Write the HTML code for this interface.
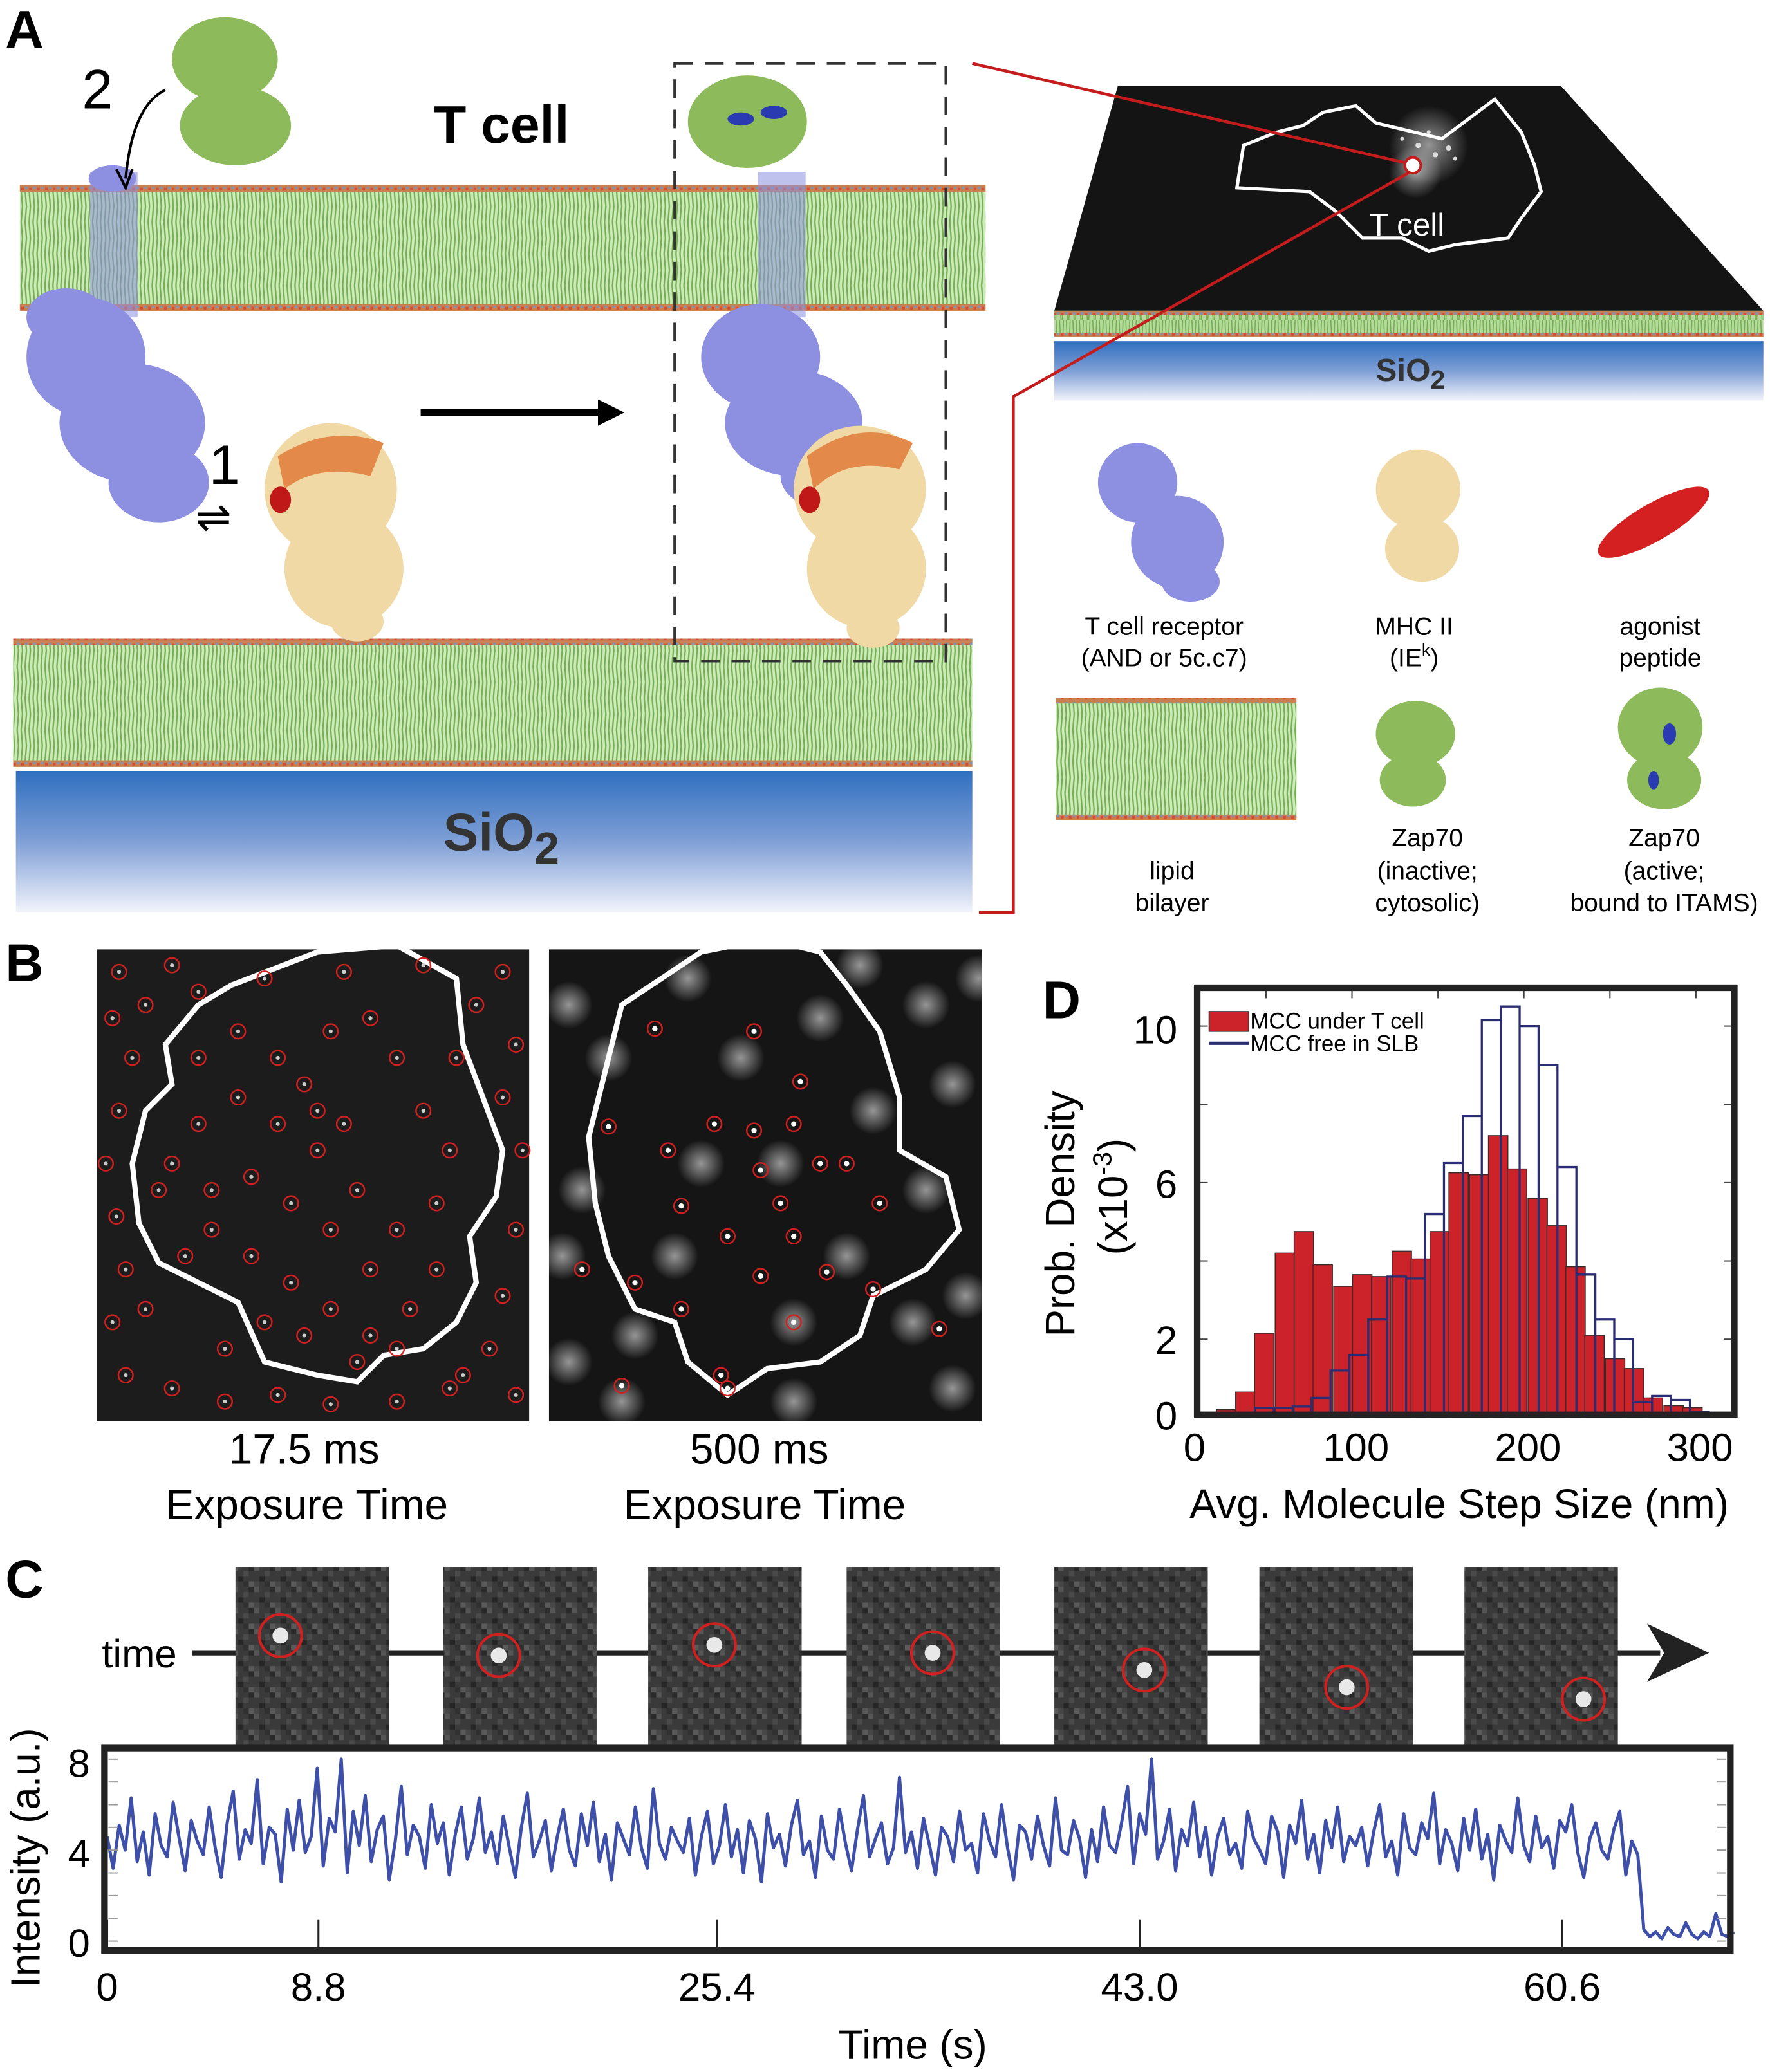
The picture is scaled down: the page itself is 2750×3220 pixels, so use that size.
<!DOCTYPE html>
<html><head><meta charset="utf-8"><style>
html,body{margin:0;padding:0;background:#fff;}
svg{display:block;}
text{font-family:"Liberation Sans",sans-serif;}
</style></head><body>
<svg id="fig" width="2750" height="3220" viewBox="0 0 1338 1567" preserveAspectRatio="none" xmlns="http://www.w3.org/2000/svg">
<defs>
<pattern id="lip" width="6" height="24" patternUnits="userSpaceOnUse">
<rect width="6" height="24" fill="#cfe8bd"/>
<path d="M1 0 L2 12 L1 24 M4 0 L5 12 L4 24" stroke="#6fb14a" stroke-width="1.1" fill="none"/>
</pattern>
<pattern id="lipS" width="5" height="22" patternUnits="userSpaceOnUse">
<rect width="5" height="22" fill="#b7d9a0"/><path d="M1 0 L2 22 M4 0 L3 22" stroke="#6fb14a" stroke-width="0.8"/>
</pattern>
<pattern id="head" width="6" height="5" patternUnits="userSpaceOnUse">
<rect width="6" height="5" fill="#c9804f"/><rect x="1" y="1" width="2" height="2" fill="#7f93b8"/><rect x="4" y="2" width="2" height="2" fill="#d44a3a"/>
</pattern>
<linearGradient id="sio" x1="0" y1="0" x2="0" y2="1"><stop offset="0" stop-color="#2f6fbf"/><stop offset="0.5" stop-color="#7f9fd6"/><stop offset="1" stop-color="#f2f4fb"/></linearGradient>
<pattern id="px" width="16" height="16" patternUnits="userSpaceOnUse">
<rect width="16" height="16" fill="#3a3a3a"/><rect width="4" height="4" fill="#555"/><rect x="8" y="4" width="4" height="4" fill="#4a4a4a"/><rect x="4" y="8" width="4" height="4" fill="#262626"/><rect x="12" y="12" width="4" height="4" fill="#5a5a5a"/><rect x="12" y="0" width="4" height="4" fill="#2a2a2a"/><rect x="0" y="12" width="4" height="4" fill="#474747"/><rect x="8" y="12" width="4" height="4" fill="#303030"/>
</pattern>
<radialGradient id="glow"><stop offset="0" stop-color="#fff" stop-opacity="0.55"/><stop offset="1" stop-color="#fff" stop-opacity="0"/></radialGradient>
</defs>

<!-- PANEL A -->
<text x="4" y="36" font-size="40" font-weight="bold">A</text>
<g>
<rect x="15" y="140" width="730" height="95" fill="url(#lip)"/>
<rect x="15" y="140" width="730" height="5" fill="url(#head)"/><rect x="15" y="230" width="730" height="5" fill="url(#head)"/>
</g>
<g>
<rect x="10" y="483" width="725" height="97" fill="url(#lip)"/>
<rect x="10" y="483" width="725" height="5" fill="url(#head)"/><rect x="10" y="575" width="725" height="5" fill="url(#head)"/>
</g>
<rect x="12" y="583" width="723" height="107" fill="url(#sio)"/>
<text x="335" y="643" font-size="40" font-weight="bold" fill="#333">SiO<tspan font-size="34" dy="10">2</tspan></text>
<text x="328" y="108" font-size="40" font-weight="bold">T cell</text>
<g fill="#8d8fe0">
<rect x="68" y="130" width="36" height="110" fill="#8d8fe0" opacity="0.55"/>
<ellipse cx="85" cy="135" rx="18" ry="10"/>
<ellipse cx="65" cy="270" rx="45" ry="45"/><ellipse cx="100" cy="320" rx="55" ry="45"/><ellipse cx="120" cy="365" rx="38" ry="30"/><ellipse cx="50" cy="240" rx="30" ry="22"/>
</g>
<g fill="#8dba5a">
<ellipse cx="170" cy="45" rx="40" ry="32"/><ellipse cx="178" cy="95" rx="42" ry="30"/>
</g>
<text x="62" y="82" font-size="42">2</text>
<path d="M125 68 Q100 80 95 135" stroke="#000" stroke-width="2" fill="none"/><path d="M88 128 L95 142 L100 128" stroke="#000" stroke-width="2" fill="none"/>
<text x="158" y="366" font-size="42">1</text>
<text x="148" y="402" font-size="32">⇌</text>
<g fill="#f0d9a4">
<ellipse cx="250" cy="370" rx="50" ry="50"/><ellipse cx="260" cy="430" rx="45" ry="45"/><ellipse cx="270" cy="470" rx="20" ry="15"/>
<path d="M210 345 Q250 320 290 335 L280 360 Q240 350 215 370Z" fill="#e38a4a"/><ellipse cx="212" cy="378" rx="8" ry="10" fill="#c01818"/>
</g>
<path d="M318 312 L458 312" stroke="#000" stroke-width="5"/><path d="M452 302 L472 312 L452 322Z" fill="#000"/>
<rect x="510" y="48" width="205" height="452" fill="none" stroke="#333" stroke-width="2" stroke-dasharray="14,9"/>
<g>
<rect x="573" y="130" width="36" height="110" fill="#8d8fe0" opacity="0.55"/>
<ellipse cx="565" cy="92" rx="45" ry="35" fill="#8dba5a"/><ellipse cx="560" cy="90" rx="10" ry="5" fill="#2a3ab0"/><ellipse cx="585" cy="85" rx="10" ry="5" fill="#2a3ab0"/>
<g fill="#8d8fe0"><ellipse cx="575" cy="270" rx="45" ry="40"/><ellipse cx="600" cy="320" rx="52" ry="40"/><ellipse cx="625" cy="360" rx="35" ry="25"/></g>
<g fill="#f0d9a4"><ellipse cx="650" cy="370" rx="50" ry="48"/><ellipse cx="655" cy="430" rx="45" ry="45"/><ellipse cx="660" cy="475" rx="20" ry="15"/></g>
<path d="M610 345 Q650 315 690 335 L680 355 Q640 345 615 370Z" fill="#e38a4a"/><ellipse cx="612" cy="378" rx="8" ry="10" fill="#c01818"/>
</g>
<!-- right top image -->
<polygon points="845,65 1180,65 1333,235 797,235" fill="#141414"/>
<circle cx="1080" cy="110" r="30" fill="url(#glow)"/><circle cx="1070" cy="130" r="20" fill="url(#glow)"/>
<path d="M1000 85 L1025 80 L1040 93 L1090 105 L1110 90 L1130 75 L1150 100 L1160 125 L1165 145 L1150 165 L1140 180 L1100 185 L1080 190 L1060 180 L1030 180 L1010 160 L990 145 L935 142 L940 110 L965 100 L985 95 Z" fill="none" stroke="#fff" stroke-width="2.5"/>
<text x="1035" y="178" font-size="24" fill="#fff">T cell</text>
<g fill="#ddd"><circle cx="1072" cy="110" r="2"/><circle cx="1085" cy="117" r="2"/><circle cx="1095" cy="112" r="2"/><circle cx="1080" cy="100" r="1.5"/><circle cx="1100" cy="120" r="1.5"/><circle cx="1060" cy="105" r="1.5"/></g>
<circle cx="1068" cy="125" r="6" fill="#fff" stroke="#c41c1c" stroke-width="2"/>
<g>
<rect x="797" y="235" width="536" height="20" fill="url(#lipS)"/>
<rect x="797" y="235" width="536" height="3" fill="url(#head)"/><rect x="797" y="252" width="536" height="3" fill="url(#head)"/>
</g>
<rect x="797" y="258" width="536" height="45" fill="url(#sio)"/>
<text x="1040" y="288" font-size="24" font-weight="bold" fill="#333">SiO<tspan font-size="20" dy="6">2</tspan></text>
<path d="M735 48 L1062 123 M1066 130 L766 300 L766 690 L740 690" stroke="#c41c1c" stroke-width="2.2" fill="none"/>
<!-- legend icons -->
<g fill="#8d8fe0"><ellipse cx="860" cy="365" rx="30" ry="30"/><ellipse cx="890" cy="410" rx="35" ry="35"/><ellipse cx="900" cy="440" rx="22" ry="15"/></g>
<g fill="#f0d9a4"><ellipse cx="1072" cy="370" rx="32" ry="30"/><ellipse cx="1075" cy="415" rx="28" ry="25"/></g>
<g fill="#d42020"><ellipse cx="1250" cy="395" rx="48" ry="14" transform="rotate(-30 1250 395)"/></g>
<g>
<rect x="798" y="528" width="182" height="92" fill="url(#lip)"/>
<rect x="798" y="528" width="182" height="4" fill="url(#head)"/><rect x="798" y="616" width="182" height="4" fill="url(#head)"/>
</g>
<g fill="#8dba5a"><ellipse cx="1070" cy="555" rx="30" ry="25"/><ellipse cx="1068" cy="590" rx="25" ry="20"/></g>
<g fill="#8dba5a"><ellipse cx="1255" cy="550" rx="32" ry="30"/><ellipse cx="1258" cy="590" rx="28" ry="22"/><ellipse cx="1262" cy="555" rx="5" ry="8" fill="#2a3ab0"/><ellipse cx="1250" cy="590" rx="4" ry="7" fill="#2a3ab0"/></g>
<g font-size="19" text-anchor="middle">
<text x="880" y="480">T cell receptor</text><text x="880" y="504">(AND or 5c.c7)</text>
<text x="1069" y="480">MHC II</text><text x="1069" y="504">(IE<tspan font-size="13" dy="-8">k</tspan><tspan dy="8">)</tspan></text>
<text x="1255" y="480">agonist</text><text x="1255" y="504">peptide</text>
<text x="886" y="665">lipid</text><text x="886" y="689">bilayer</text>
<text x="1079" y="640">Zap70</text><text x="1079" y="665">(inactive;</text><text x="1079" y="689">cytosolic)</text>
<text x="1258" y="640">Zap70</text><text x="1258" y="665">(active;</text><text x="1258" y="689">bound to ITAMS)</text>
</g>

<!-- PANEL B -->
<text x="4" y="742" font-size="40" font-weight="bold">B</text>
<rect x="73" y="718" width="327" height="357" fill="#1c1c1c"/>
<rect x="415" y="718" width="327" height="357" fill="#151515"/>
<g id="blobs"></g>
<path d="M175 745 L240 720 L300 715 L345 740 L350 790 L365 830 L380 870 L375 905 L355 935 L360 970 L345 1000 L320 1020 L290 1025 L270 1045 L240 1040 L200 1030 L180 985 L150 970 L120 955 L105 925 L100 880 L110 840 L130 820 L125 790 L150 760 Z" fill="none" stroke="#fff" stroke-width="4"/>
<path d="M470 760 L530 720 L580 710 L620 720 L640 745 L665 780 L680 830 L680 870 L715 890 L725 930 L700 960 L660 980 L650 1010 L620 1030 L580 1035 L550 1055 L520 1030 L510 1000 L480 990 L460 950 L450 910 L445 860 L455 820 Z" fill="none" stroke="#fff" stroke-width="4"/>
<g id="circs" fill="none" stroke="#d02020" stroke-width="1.2"></g>
<g font-size="32" text-anchor="middle">
<text x="230" y="1107">17.5 ms</text><text x="232" y="1149">Exposure Time</text>
<text x="574" y="1107">500 ms</text><text x="578" y="1149">Exposure Time</text>
</g>

<!-- PANEL D -->
<text x="788" y="770" font-size="40" font-weight="bold">D</text>
<g id="hist"></g>
<rect x="905" y="747" width="406" height="323" fill="none" stroke="#222" stroke-width="5"/>
<g font-size="17">
<rect x="914" y="765" width="30" height="15" fill="#cc2229" stroke="#333" stroke-width="0.8"/><text x="945" y="778">MCC under T cell</text>
<line x1="914" y1="789" x2="944" y2="789" stroke="#2b2d72" stroke-width="2.5"/><text x="945" y="795">MCC free in SLB</text>
</g>
<g font-size="30" text-anchor="end">
<text x="890" y="789">10</text><text x="890" y="906">6</text><text x="890" y="1024">2</text><text x="890" y="1081">0</text>
</g>
<g font-size="30" text-anchor="middle">
<text x="903" y="1105">0</text><text x="1025" y="1105">100</text><text x="1155" y="1105">200</text><text x="1285" y="1105">300</text>
</g>
<text x="1103" y="1148" font-size="31" text-anchor="middle">Avg. Molecule Step Size (nm)</text>
<text transform="translate(812 918) rotate(-90)" font-size="31" text-anchor="middle">Prob. Density</text>
<text transform="translate(852 905) rotate(-90)" font-size="31" text-anchor="middle">(x10<tspan font-size="20" dy="-12">-3</tspan><tspan dy="12">)</tspan></text>

<!-- PANEL C -->
<text x="4" y="1208" font-size="40" font-weight="bold">C</text>
<text x="77" y="1261" font-size="30">time</text>
<line x1="145" y1="1250" x2="1255" y2="1250" stroke="#222" stroke-width="4"/>
<path d="M1245 1228 L1292 1250 L1245 1272 L1258 1250 Z" fill="#222"/>
<g id="frames"></g>
<g id="trace"></g>
<rect x="79" y="1322" width="1229" height="153" fill="none" stroke="#222" stroke-width="5"/>
<g font-size="30" text-anchor="end">
<text x="68" y="1344">8</text><text x="68" y="1412">4</text><text x="68" y="1480">0</text>
</g>
<text transform="translate(30 1405) rotate(-90)" font-size="31" text-anchor="middle">Intensity (a.u.)</text>
<g id="xt" font-size="30" text-anchor="middle"></g>
<text x="690" y="1557" font-size="31" text-anchor="middle">Time (s)</text>
</svg>
<script>
const NS="http://www.w3.org/2000/svg";
function mk(tag,at,parent){const e=document.createElementNS(NS,tag);for(const k in at)e.setAttribute(k,at[k]);parent.appendChild(e);return e;}

// ---- Histogram data (panel D) ----
const redBinCenters=[27,38,49,61,72,83,95,106,117,129,140,151,162,174,185,196,208,219,230,241,253,264,275,287,298];
const redDensity=[0.2,0.65,2.15,4.2,4.75,3.9,3.35,3.65,3.6,4.25,4.05,4.75,6.25,6.2,7.2,6.35,5.6,4.9,3.85,2.1,1.5,1.25,0.5,0.3,0.25];
const blueBinCenters=[49,60,71,82,93,104,115,126,137,148,159,170,181,192,203,214,225,236,247,258,269,280,291,302];
const blueDensity=[0.25,0.25,0.28,0.5,1.2,1.6,2.5,3.6,3.55,5.2,6.5,7.7,10.15,10.5,10.0,9.0,6.4,3.65,2.5,2.0,0.4,0.55,0.45,0.15];
const redWidth=11.3, blueWidth=11.0;
const hx=nm=>892+1.30*nm, hy=v=>1072-29.6*v;
const hist=document.getElementById('hist');
redBinCenters.forEach((c,i)=>{
  const r=mk('rect',{x:hx(c-redWidth/2),y:hy(redDensity[i]),width:hx(c+redWidth/2)-hx(c-redWidth/2),height:hy(0)-hy(redDensity[i]),fill:'#cc2229',stroke:'#3a2a2a','stroke-width':0.7},hist);
  
  
});
let d='M'+hx(blueBinCenters[0]-blueWidth/2)+' '+hy(0);
blueBinCenters.forEach((c,i)=>{const a=hx(c-blueWidth/2),b=hx(c+blueWidth/2),y=hy(blueDensity[i]);d+=' L'+a+' '+y+' L'+b+' '+y+' L'+b+' '+hy(0)+' M'+b+' '+y;});
const bl=mk('path',{d:d,fill:'none',stroke:'#2b2d72','stroke-width':1.6},hist);


for(let v=2;v<=10;v+=2){mk('line',{x1:907,x2:913,y1:hy(v),y2:hy(v),stroke:'#444'},hist);mk('line',{x1:1303,x2:1309,y1:hy(v),y2:hy(v),stroke:'#444'},hist);}
for(let v=50;v<=300;v+=50){mk('line',{x1:hx(v),x2:hx(v),y1:749,y2:755,stroke:'#444'},hist);}

// ---- Trace data (panel C) ----
const traceDt=0.25;
const traceValues=[4.6,3.2,5.1,4.0,6.3,3.5,4.8,2.9,5.6,4.2,3.7,6.1,4.5,3.1,5.3,4.4,
3.8,5.9,4.1,2.8,5.2,6.6,3.6,4.9,4.3,7.1,3.4,5.0,4.7,2.6,5.8,4.0,
6.2,3.9,4.6,7.6,3.3,5.4,4.8,8.0,3.0,5.7,4.2,6.4,3.5,4.9,5.5,2.7,
4.4,6.8,3.8,5.1,4.6,3.2,6.0,4.3,5.2,2.9,4.7,5.9,3.6,4.5,6.3,3.9,
4.8,3.4,5.5,4.1,2.8,5.0,6.5,3.7,4.4,5.3,3.1,4.6,5.8,4.0,3.3,5.6,
4.2,6.1,3.5,4.7,2.7,5.2,4.5,3.8,5.9,4.1,3.2,6.7,4.3,3.6,5.0,4.4,
3.9,5.4,2.9,4.6,5.7,3.4,4.2,6.0,3.7,4.9,3.0,5.3,4.5,2.6,5.6,4.1,
4.7,3.3,5.1,6.2,3.8,4.4,2.8,5.5,4.0,3.6,5.8,4.3,3.1,4.9,6.4,3.7,
4.5,5.2,3.4,4.1,7.2,3.9,4.8,3.2,5.4,4.2,2.9,5.0,4.6,3.5,5.7,4.0,
4.3,3.0,5.6,4.4,3.7,6.0,4.1,2.7,5.1,4.8,3.6,5.5,4.2,3.3,6.3,4.0,
3.8,5.3,4.5,2.8,4.9,3.5,5.9,4.2,3.9,5.2,6.8,3.4,5.6,4.7,8.0,3.6,
4.4,5.8,3.1,4.9,4.2,6.1,3.7,5.0,2.9,4.6,5.4,3.8,4.3,3.2,5.7,4.5,
4.0,3.4,5.5,4.8,2.8,5.1,4.3,6.2,3.6,4.7,3.0,5.3,4.1,5.9,3.5,4.6,
4.2,5.0,3.3,4.8,6.0,3.7,4.4,2.9,5.6,4.1,3.8,5.2,4.5,6.5,3.4,4.9,
4.3,3.1,5.4,4.0,5.8,3.6,4.7,2.7,5.1,4.4,3.9,6.3,4.2,3.5,5.5,4.1,
4.6,3.2,5.3,4.8,6.0,3.9,2.8,4.5,5.2,4.0,3.6,4.9,5.7,2.9,4.4,3.8,
0.5,0.2,0.4,0.1,0.6,0.3,0.2,0.8,0.3,0.1,0.4,0.2,1.2,0.3,0.2,0.4];
const timeTicks=[0,8.8,25.4,43.0,60.6];
const timeTickLabels=["0","8.8","25.4","43.0","60.6"];
const tx=t=>81+18.15*t, ty=v=>1468-17.2*v;
const tr=document.getElementById('trace');
let p='';traceValues.forEach((v,i)=>{p+=(i?' L':'M')+tx(i*traceDt).toFixed(2)+' '+ty(v).toFixed(2);});
const tl=mk('path',{d:p,fill:'none',stroke:'#3d4fa8','stroke-width':2.4,'stroke-linejoin':'round'},tr);


for(let v=0;v<=8;v++){mk('line',{x1:82,x2:89,y1:ty(v),y2:ty(v),stroke:'#999'},tr);mk('line',{x1:1298,x2:1305,y1:ty(v),y2:ty(v),stroke:'#999'},tr);}
const xt=document.getElementById('xt');
timeTicks.forEach((t,i)=>{mk('line',{x1:tx(t),x2:tx(t),y1:1473,y2:1452,stroke:'#222','stroke-width':1.5},tr);const e=mk('text',{x:tx(t),y:1513},xt);e.textContent=timeTickLabels[i];});

// ---- decorative frames / circles ----
const fr=document.getElementById('frames');
const fx=[178,335,490,640,797,952,1107], cx=[212,377,540,705,865,1018,1197], cy=[1237,1252,1244,1250,1263,1276,1285];
fx.forEach((x,i)=>{const r=mk('rect',{x:x,y:1185,width:116,height:135,fill:'url(#px)'},fr);


mk('circle',{cx:cx[i],cy:cy[i],r:6,fill:'#e8e8e8'},fr);
mk('circle',{cx:cx[i],cy:cy[i],r:16,fill:'none',stroke:'#d02020','stroke-width':2},fr);});
const blobs=document.getElementById('blobs');
[[430,760],[460,800],[700,760],[720,820],[690,1000],[430,1030],[470,1060],[720,1050],[520,740],[650,730],[440,900],[730,980],[600,1060],[480,1010],[700,900],[560,800],[620,770],[510,950],[640,950],[590,880],[660,840],[530,880],[740,740],[425,950],[600,1000]].forEach(q=>mk('circle',{cx:q[0],cy:q[1],r:18,fill:'url(#glow)'},blobs));
const circ=document.getElementById('circs');
const c1=[[90,735],[110,760],[130,730],[150,750],[200,740],[260,735],[320,730],[380,735],[360,760],[390,790],[345,800],[380,830],[395,870],[390,930],[380,980],[370,1020],[390,1055],[340,1050],[300,1060],[250,1062],[210,1055],[170,1060],[130,1050],[95,1040],[85,1000],[95,960],[88,920],[80,880],[90,840],[100,800],[85,770],[150,800],[180,780],[210,800],[250,780],[280,770],[300,800],[320,840],[340,870],[330,910],[300,930],[270,900],[240,870],[210,850],[180,830],[150,850],[130,880],[160,900],[190,890],[220,910],[250,930],[280,960],[310,990],[280,1010],[250,990],[220,970],[190,950],[160,930],[140,950],[230,1010],[200,1000],[240,840],[260,850],[230,820],[120,900],[330,960],[270,1030],[300,1020],[170,1020],[110,990],[350,1040]];
c1.forEach(q=>{mk('circle',{cx:q[0],cy:q[1],r:5.5},circ);mk('circle',{cx:q[0],cy:q[1],r:1.5,fill:'#ccc',stroke:'none'},circ);});
const c2=[[495,778],[570,780],[605,818],[540,850],[505,870],[570,855],[600,850],[620,880],[590,910],[575,885],[550,935],[515,912],[600,935],[640,880],[665,910],[660,975],[480,970],[550,1050],[470,1048],[710,1005],[515,990],[545,1040],[600,1000],[625,962],[575,965],[460,852],[440,960]];
c2.forEach(q=>{mk('circle',{cx:q[0],cy:q[1],r:5.5},circ);mk('circle',{cx:q[0],cy:q[1],r:2,fill:'#fff',stroke:'none'},circ);});
</script>
</body></html>
